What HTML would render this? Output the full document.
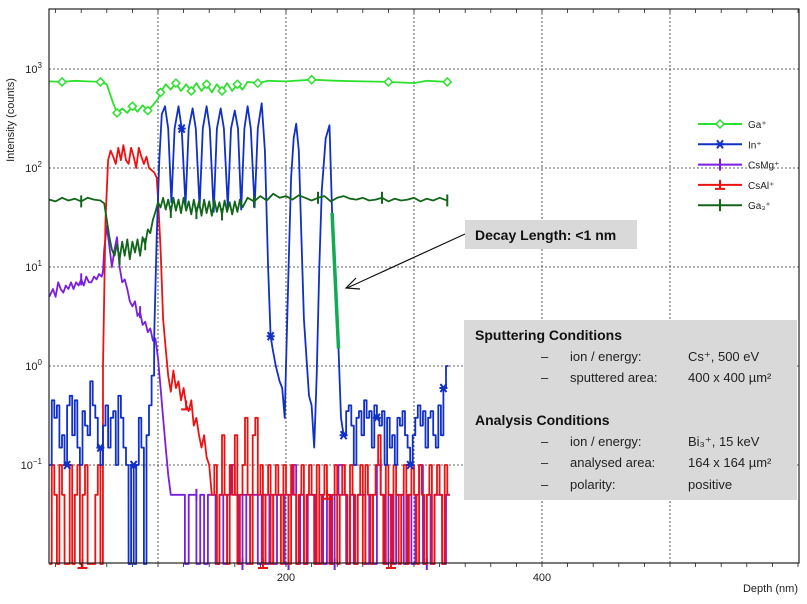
<!DOCTYPE html>
<html><head><meta charset="utf-8"><style>
body{margin:0;background:#fff;width:807px;height:599px;overflow:hidden;font-family:"Liberation Sans",sans-serif}
svg text{font-family:"Liberation Sans",sans-serif}
</style></head><body>
<svg id="chart" width="807" height="599" viewBox="0 0 807 599" xmlns="http://www.w3.org/2000/svg">
<g id="grid"></g>
<g id="series"></g>
<rect x="49" y="9" width="750" height="554" fill="none" stroke="#222" stroke-width="1.2"/>
<g id="axes"></g>
<text transform="translate(14,120) rotate(-90)" text-anchor="middle" font-size="11" fill="#222">Intensity (counts)</text>
<text x="798" y="592" text-anchor="end" font-size="11" fill="#222">Depth (nm)</text>
<g id="legend"></g>
<g>
<rect x="465" y="220" width="172" height="29" fill="#d9d9d9"/>
<text x="475" y="240" font-size="14" font-weight="bold" fill="#111">Decay Length: &lt;1 nm</text>
<line x1="465" y1="234" x2="347" y2="288" stroke="#111" stroke-width="1.2"/>
<polyline points="356,278 346,288 360,289" fill="none" stroke="#111" stroke-width="1.2"/>
</g>
<g>
<rect x="464" y="320" width="333" height="180" fill="#d9d9d9"/>
<text x="475" y="340" font-size="14" font-weight="bold" fill="#111">Sputtering Conditions</text>
<g font-size="13" fill="#222">
<text x="541" y="361">–</text><text x="570" y="361">ion / energy:</text><text x="688" y="361">Cs⁺, 500 eV</text>
<text x="541" y="382">–</text><text x="570" y="382">sputtered area:</text><text x="688" y="382">400 x 400 µm²</text>
<text x="541" y="446">–</text><text x="570" y="446">ion / energy:</text><text x="688" y="446">Bi₃⁺, 15 keV</text>
<text x="541" y="467">–</text><text x="570" y="467">analysed area:</text><text x="688" y="467">164 x 164 µm²</text>
<text x="541" y="489">–</text><text x="570" y="489">polarity:</text><text x="688" y="489">positive</text>
</g>
<text x="475" y="425" font-size="14" font-weight="bold" fill="#111">Analysis Conditions</text>
</g>
</svg>
<script>
// ---- data ----
const xTicks=[200,400];
const xGrid=[100,200,300,400,500];
const yDecades=[3,2,1,0,-1];
const seriesNames=["Ga+","In+","CsMg+","CsAl+","Ga3+"];

const gaDepth=[15,25,35,45,55,60,65,68,72,76,80,84,88,92,96,100,102,106,110,114,118,122,126,130,134,138,142,146,150,154,158,162,166,170,178,186,200,220,240,260,280,300,310,326];
const gaVal=[750,740,760,750,740,700,450,360,400,360,420,370,430,380,430,500,580,700,620,720,600,700,600,720,600,700,580,700,600,720,600,700,620,740,720,760,750,780,760,750,740,720,760,740];

const ga3Depth=[15,20,25,30,35,40,45,50,55,58,60,62,64,66,68,70,72,74,76,78,80,82,84,86,88,90,92,94,96,98,100,102,104,106,108,110,112,114,116,118,120,122,124,126,128,130,132,134,136,138,140,142,144,146,148,150,152,154,156,158,160,162,164,166,170,175,180,185,190,195,200,205,210,215,220,225,230,235,240,245,250,255,260,265,270,275,280,285,290,295,300,305,310,315,320,326];
const ga3Val=[48,46,50,47,49,46,50,48,47,44,30,20,15,13,17,12,18,13,19,12,18,14,19,13,20,17,24,22,30,36,45,40,50,38,48,36,50,37,48,35,50,37,46,34,48,35,46,33,48,35,46,33,48,36,45,34,47,36,45,34,46,36,48,40,50,46,52,47,55,50,52,48,53,50,47,50,52,46,50,52,49,48,50,47,48,50,46,49,47,48,50,46,49,47,50,47];

const inNoiseA=[0.1,0.45,0.3,0.4,0.15,0.2,0.1,0.4,0.5,0.2,0.45,0.15,0.1,0.35,0.25,0.2,0.7,0.4,0.3,0.15,0.1,0.25,0.4,0.15,0.3,0.35,0.1,0.5,0.3,0.15,0.1,0.01,0.1,0.01,0.1,0.3,0.15,0.01,0.2,0.4,0.8];
const inNoiseAStart=15, inNoiseStep=2;
const inMidDepth=[97,99,101,103,105.5,108,110.5,113,116,118.5,121.5,124,127,129.5,132.5,135,138,140.5,143.5,146,149,151.5,154.5,157,160,162.5,165,167.5,170,172.5,175.5,178,181,183.5,186,188,189.5,192,195,197,199,200,202,204,206,208,210,212,214,216,218,220,222,224,226,228,231,234,236,241,243];
const inMidVal=[2,20,120,350,420,250,45,250,420,250,42,250,400,250,40,250,420,250,36,250,400,250,40,250,380,250,38,250,420,250,40,250,450,150,10,2,1.5,1.0,0.7,0.6,0.3,1,10,80,200,280,150,20,3,1.2,0.5,0.4,0.15,0.8,10,60,200,270,35,1.5,0.3];
const inNoiseB=[0.2,0.35,0.4,0.25,0.1,0.3,0.35,0.2,0.45,0.3,0.35,0.15,0.4,0.3,0.25,0.35,0.1,0.3,0.15,0.2,0.1,0.3,0.25,0.35,0.2,0.15,0.1,0.2,0.3,0.4,0.25,0.35,0.15,0.3,0.35,0.2,0.15,0.4,0.2,0.6,1.0];
const inNoiseBStart=245;

const mgDepth=[15,18,20,22,24,26,28,30,32,34,36,38,40,42,44,46,48,50,52,54,56,57,58,60,62,64,66,68,70,72,74,76,78,80,82,84,86,88,90,92,94,96,98,100,102,104,106,108,110];
const mgVal=[5,6,5,7,6,5.5,6.5,6,7,6,7,6.5,7.5,6.5,8,7,7,8,7.5,8.5,8,9,15,26,16,10,15,20,10,7,7.5,6,4.5,4,4.5,3.2,3.5,2.6,2.8,2.2,2.4,1.8,1.9,1.2,0.6,0.3,0.15,0.08,0.05];
const mgNoise=[0.05,0.05,0.05,0.01,0.05,0.05,0.01,0.05,0.01,0.05,0.05,0.01,0.05,0.01,0.05,0.1,0.05,0.01,0.05,0.01,0.05,0.05,0.01,0.05,0.01,0.05,0.01,0.05,0.05,0.01,0.05,0.1,0.01,0.05,0.01,0.05,0.05,0.01,0.05,0.01,0.05,0.01,0.05,0.1,0.05,0.01,0.05,0.01,0.05,0.05,0.01,0.05,0.01,0.1,0.05,0.01,0.05,0.01,0.05,0.05,0.01,0.05,0.01,0.05,0.1,0.01,0.05,0.01,0.05,0.05,0.01,0.05];
const mgNoiseStart=112, mgNoiseStep=3;

const alNoiseA=[0.01,0.1,0.05,0.01,0.1,0.05,0.01,0.01,0.1,0.01,0.05,0.1,0.01,0.05,0.1,0.01,0.01,0.01,0.05,0.1,0.01];
const alNoiseAStart=15, alStep=2;
const alMidDepth=[57,59,61,63,65,67,69,71,73,75,77,79,81,83,85,87,89,91,93,95,97,99,100,102,104,106,108,110,112,114,116,118,120,122,124,126,128,130,132,134,136,138,140];
const alMidVal=[1,30,120,150,130,110,160,120,170,120,110,160,130,100,160,130,110,130,100,95,90,80,50,15,3,1.5,0.8,0.55,0.9,0.6,0.7,0.45,0.6,0.4,0.35,0.45,0.25,0.3,0.2,0.15,0.2,0.12,0.1];
const alNoiseB=[0.05,0.1,0.01,0.05,0.2,0.05,0.01,0.1,0.05,0.2,0.01,0.05,0.1,0.3,0.05,0.01,0.2,0.3,0.05,0.1,0.01,0.05,0.1,0.01,0.05,0.1,0.05,0.01,0.1,0.05,0.01,0.1,0.05,0.01,0.05,0.1,0.01,0.05,0.1,0.05,0.01,0.1,0.01,0.05,0.1,0.05,0.01,0.05,0.1,0.01,0.05,0.1,0.05,0.01,0.1,0.05,0.01,0.05,0.1,0.01,0.1,0.05,0.01,0.05,0.1,0.2,0.05,0.01,0.1,0.05,0.01,0.1,0.05,0.01,0.05,0.1,0.01,0.05,0.1,0.05,0.01,0.1,0.05,0.01,0.05,0.1,0.01,0.05,0.1,0.05,0.01,0.1,0.05];
const alNoiseBStart=142;

const decayDepth=[236,241];
const decayVal=[35,1.5];

// ---- axes ----
const NS="http://www.w3.org/2000/svg";
const X0=49,X1=799,Y0=9,Y1=563;
function xs(d){return 30+1.28*d;}
function ys(v){const lv=Math.max(-2,Math.log10(v));return 69+99*(3-lv);}
function mk(tag,attrs,parent){const e=document.createElementNS(NS,tag);for(const k in attrs)e.setAttribute(k,attrs[k]);parent.appendChild(e);return e;}
const grid=document.getElementById('grid'),axes=document.getElementById('axes'),ser=document.getElementById('series');
yDecades.forEach(p=>{
  const y=ys(Math.pow(10,p));
  const l=mk('line',{x1:X0,x2:X1,y1:y,y2:y,stroke:'#333','stroke-width':0.8,'stroke-dasharray':'2,2'},grid);
  
  
  const t=mk('text',{x:42,y:y+4,'text-anchor':'end','font-size':11,fill:'#222'},axes);
  
  
  t.textContent='10';
  const s=mk('tspan',{dy:-5,'font-size':8},t);s.textContent=String(p).replace('-','−');
});
xGrid.forEach(d=>{
  const x=xs(d);
  const l=mk('line',{x1:x,x2:x,y1:Y0,y2:Y1,stroke:'#333','stroke-width':0.8,'stroke-dasharray':'2,2'},grid);
  
  
});
for(let d=20;d<=600;d+=20){const x=xs(d);if(x<X0||x>X1)continue;
  const a=mk('line',{x1:x,x2:x,y1:Y1,y2:Y1+4,stroke:'#222','stroke-width':0.8},axes);
  
  
  const b=mk('line',{x1:x,x2:x,y1:Y0,y2:Y0+4,stroke:'#222','stroke-width':0.8},axes);
  
  
}
xTicks.forEach(d=>{
  const t=mk('text',{x:xs(d),y:581,'text-anchor':'middle','font-size':11,fill:'#222'},axes);
  
  
  t.textContent=d;
});

// ---- series ----
// step-style for counting noise: each value held for its bin
function seqStep(start,step,vals){const out=[];vals.forEach((v,i)=>{out.push([start+i*step,v]);out.push([start+(i+1)*step-0.01,v]);});return out;}
function zip(d,v){return d.map((x,i)=>[x,v[i]]);}
function marker(type,x,y,color,g){
  let e;
  if(type==='diamond'){e=mk('polygon',{points:`${x},${y-4} ${x+4},${y} ${x},${y+4} ${x-4},${y}`,fill:'#fff',stroke:color,'stroke-width':1.5},g);}
  else if(type==='star'){e=mk('path',{d:`M${x-3},${y-4}L${x+3},${y+4}M${x+3},${y-4}L${x-3},${y+4}M${x-4},${y}L${x+4},${y}`,stroke:color,'stroke-width':2},g);}
  else if(type==='tee'){e=mk('path',{d:`M${x},${y-5}L${x},${y+4}M${x-5},${y+4}L${x+5},${y+4}`,stroke:color,'stroke-width':2},g);}
  else {e=mk('path',{d:`M${x},${y-6}L${x},${y+6}`,stroke:color,'stroke-width':2},g);}
  return e;
}
function draw(name,pts,color,mtype,every,w){
  const g=mk('g',{},ser);
  
  
  const p=mk('polyline',{points:pts.map(q=>xs(q[0]).toFixed(1)+','+ys(q[1]).toFixed(1)).join(' '),fill:'none',stroke:color,'stroke-width':w||1.8,'stroke-linejoin':'round'},g);
  
  
  if(mtype){for(let i=Math.floor(every/2);i<pts.length;i+=every){
    const m=marker(mtype,xs(pts[i][0]),ys(pts[i][1]),color,g);
    
    
  }}
}
const mgPts=zip(mgDepth,mgVal).concat(seqStep(mgNoiseStart,mgNoiseStep,mgNoise));
const alPts=seqStep(alNoiseAStart,alStep,alNoiseA).concat(zip(alMidDepth,alMidVal)).concat(seqStep(alNoiseBStart,alStep,alNoiseB));
const inPts=seqStep(inNoiseAStart,inNoiseStep,inNoiseA).concat(zip(inMidDepth,inMidVal)).concat(seqStep(inNoiseBStart,inNoiseStep,inNoiseB));
draw('csmg',mgPts,'#7a1fe0','plus',24);
draw('csal',alPts,'#ee1111','tee',50);
draw('in',inPts,'#1030c8','star',26);
draw('ga3',zip(ga3Depth,ga3Val),'#11661a','plus',10);
draw('ga',zip(gaDepth,gaVal),'#2ee02e','diamond',3);
draw('decay',zip(decayDepth,decayVal),'#11aa55',null,0,3.5);

// ---- legend ----
const lg=document.getElementById('legend');
const legColors=['#2ee02e','#1030c8','#7a1fe0','#ee1111','#11661a'];
const legMarks=['diamond','star','plus','tee','plus'];
const legLabels=[['Ga','⁺'],['In','⁺'],['CsMg','⁺'],['CsAl','⁺'],['Ga₃','⁺']];
seriesNames.forEach((n,i)=>{
  const y=124+i*20.3;
  const g=mk('g',{},lg);
  
  
  mk('line',{x1:698,x2:742,y1:y,y2:y,stroke:legColors[i],'stroke-width':2},g);
  marker(legMarks[i],720,y,legColors[i],g);
  const t=mk('text',{x:748,y:y+4,'font-size':10,fill:'#222'},g);
  t.textContent=legLabels[i][0]+legLabels[i][1];
});
</script>
</body></html>
